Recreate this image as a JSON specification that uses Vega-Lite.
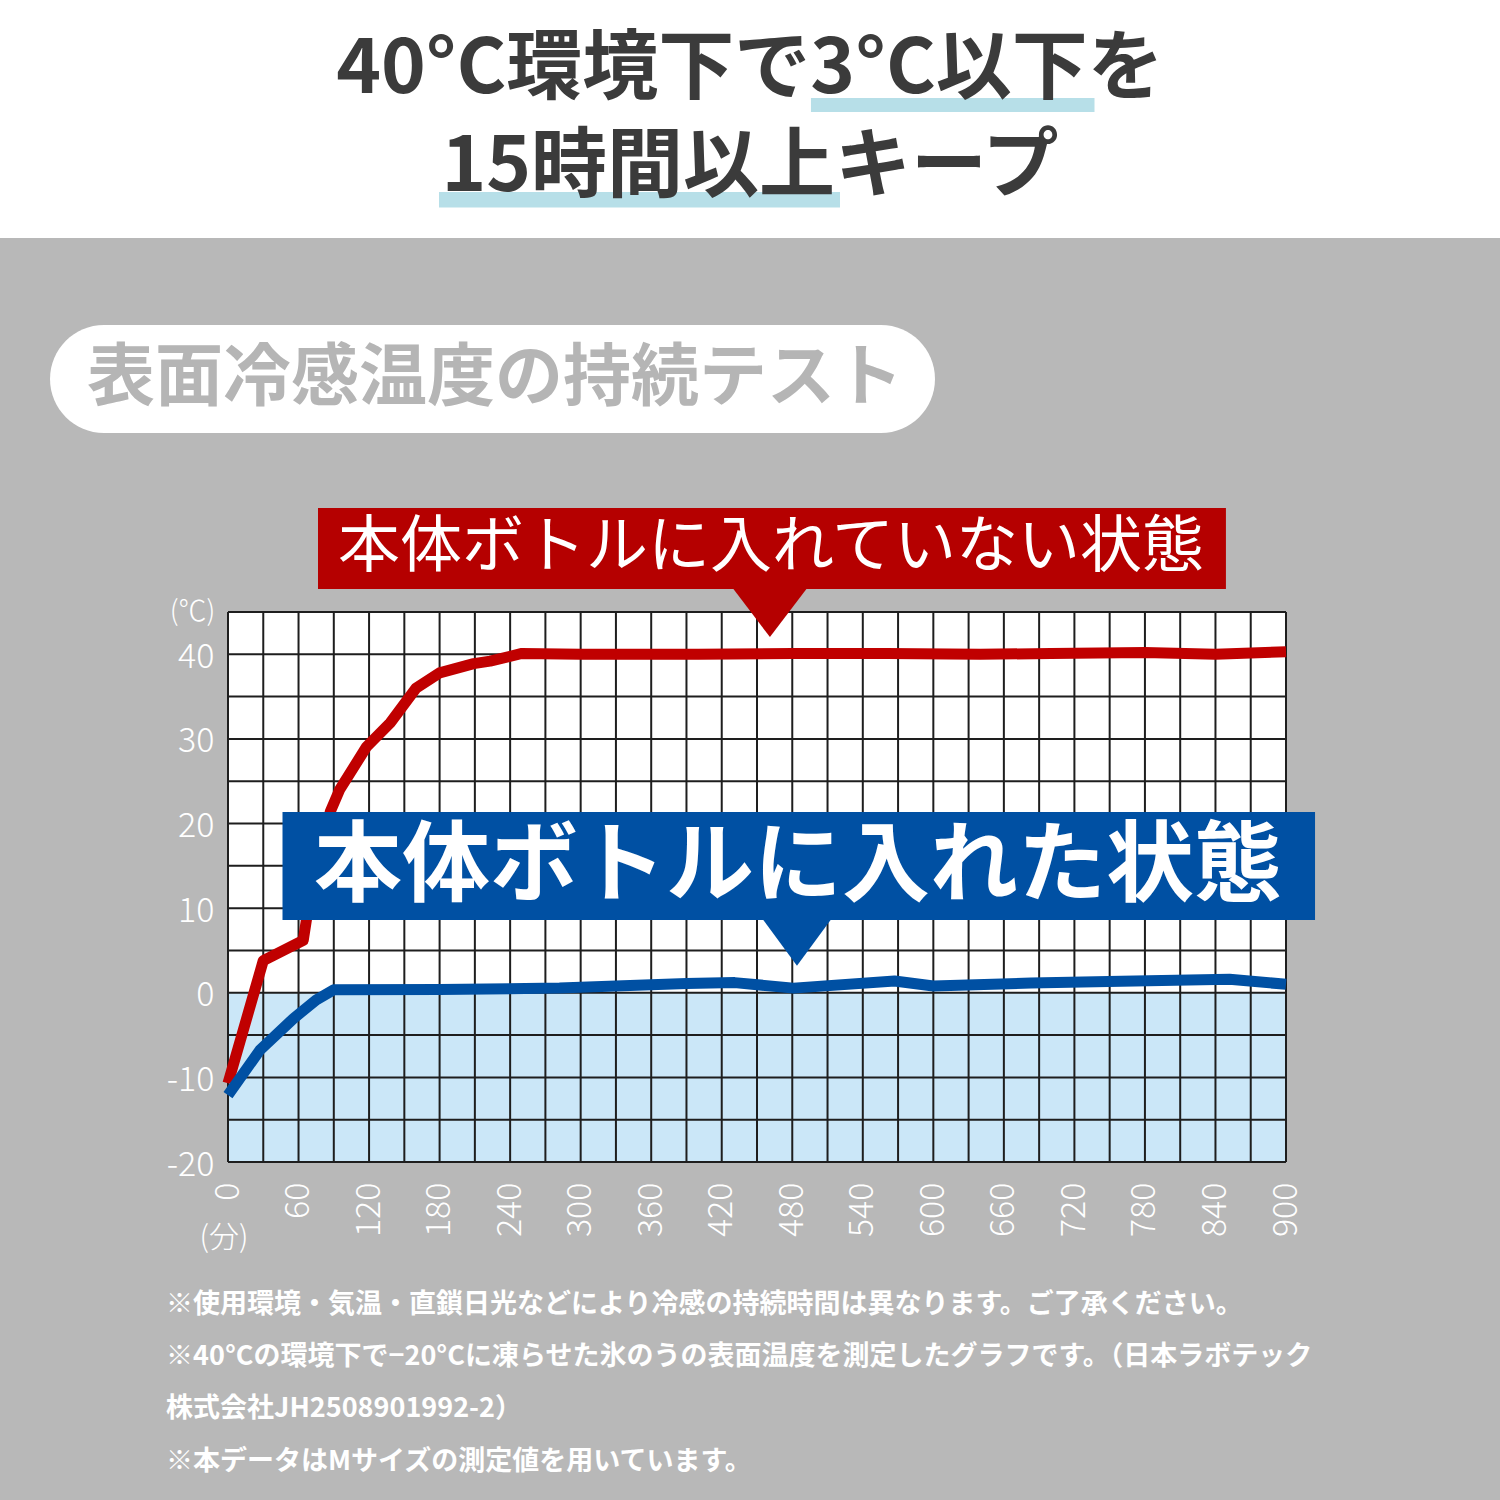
{
  "$schema": "https://vega.github.io/schema/vega-lite/v6.json",
  "description": "表面冷感温度の持続テスト",
  "autosize": {"type": "none"},
  "width": 1058,
  "height": 550,
  "padding": {"left": 228, "top": 612, "right": 214, "bottom": 338},
  "background": "#b8b8b8",
  "config": {
    "view": {"stroke": null, "fill": "#ffffff"},
    "font": "Noto Sans CJK JP",
    "text": {"font": "Noto Sans CJK JP"},
    "axis": {
      "domain": false, "ticks": false, "grid": false,
      "labelColor": "#ffffff", "labelFontSize": 34, "labelFontWeight": 300,
      "labelFont": "Noto Sans CJK JP", "labelFlush": false, "labelOverlap": false,
      "labelExpr": "datum.value < 0 ? '-' + abs(datum.value) : '' + datum.value"
    },
    "axisX": {"labelAngle": 270, "labelPadding": 20},
    "axisY": {"labelPadding": 14, "labelOffset": 3}
  },
  "datasets": {
    "temps": [
      {"condition": "本体ボトルに入れていない状態", "minutes": 0, "temp": -10.7},
      {"condition": "本体ボトルに入れていない状態", "minutes": 30, "temp": 3.8},
      {"condition": "本体ボトルに入れていない状態", "minutes": 64, "temp": 6.2},
      {"condition": "本体ボトルに入れていない状態", "minutes": 68, "temp": 9.8},
      {"condition": "本体ボトルに入れていない状態", "minutes": 78, "temp": 16},
      {"condition": "本体ボトルに入れていない状態", "minutes": 87, "temp": 21.4},
      {"condition": "本体ボトルに入れていない状態", "minutes": 95, "temp": 24},
      {"condition": "本体ボトルに入れていない状態", "minutes": 118, "temp": 29.1},
      {"condition": "本体ボトルに入れていない状態", "minutes": 138, "temp": 31.9},
      {"condition": "本体ボトルに入れていない状態", "minutes": 160, "temp": 36},
      {"condition": "本体ボトルに入れていない状態", "minutes": 180, "temp": 37.8},
      {"condition": "本体ボトルに入れていない状態", "minutes": 209, "temp": 38.9},
      {"condition": "本体ボトルに入れていない状態", "minutes": 223, "temp": 39.2},
      {"condition": "本体ボトルに入れていない状態", "minutes": 250, "temp": 40.1},
      {"condition": "本体ボトルに入れていない状態", "minutes": 300, "temp": 40.0},
      {"condition": "本体ボトルに入れていない状態", "minutes": 400, "temp": 40.0},
      {"condition": "本体ボトルに入れていない状態", "minutes": 480, "temp": 40.1},
      {"condition": "本体ボトルに入れていない状態", "minutes": 560, "temp": 40.1},
      {"condition": "本体ボトルに入れていない状態", "minutes": 640, "temp": 40.0},
      {"condition": "本体ボトルに入れていない状態", "minutes": 700, "temp": 40.1},
      {"condition": "本体ボトルに入れていない状態", "minutes": 780, "temp": 40.2},
      {"condition": "本体ボトルに入れていない状態", "minutes": 840, "temp": 40.0},
      {"condition": "本体ボトルに入れていない状態", "minutes": 900, "temp": 40.3},
      {"condition": "本体ボトルに入れた状態", "minutes": 0, "temp": -12.1},
      {"condition": "本体ボトルに入れた状態", "minutes": 27, "temp": -6.8},
      {"condition": "本体ボトルに入れた状態", "minutes": 56, "temp": -3.0},
      {"condition": "本体ボトルに入れた状態", "minutes": 75, "temp": -0.85},
      {"condition": "本体ボトルに入れた状態", "minutes": 90, "temp": 0.35},
      {"condition": "本体ボトルに入れた状態", "minutes": 180, "temp": 0.4},
      {"condition": "本体ボトルに入れた状態", "minutes": 282, "temp": 0.55},
      {"condition": "本体ボトルに入れた状態", "minutes": 330, "temp": 0.8},
      {"condition": "本体ボトルに入れた状態", "minutes": 390, "temp": 1.1},
      {"condition": "本体ボトルに入れた状態", "minutes": 431, "temp": 1.2},
      {"condition": "本体ボトルに入れた状態", "minutes": 481, "temp": 0.55},
      {"condition": "本体ボトルに入れた状態", "minutes": 567, "temp": 1.4},
      {"condition": "本体ボトルに入れた状態", "minutes": 600, "temp": 0.8},
      {"condition": "本体ボトルに入れた状態", "minutes": 683, "temp": 1.15},
      {"condition": "本体ボトルに入れた状態", "minutes": 760, "temp": 1.35},
      {"condition": "本体ボトルに入れた状態", "minutes": 852, "temp": 1.6},
      {"condition": "本体ボトルに入れた状態", "minutes": 900, "temp": 1.0}
    ],
    "gridx": [
      {"minutes": 0}, {"minutes": 30}, {"minutes": 60}, {"minutes": 90}, {"minutes": 120},
      {"minutes": 150}, {"minutes": 180}, {"minutes": 210}, {"minutes": 240}, {"minutes": 270},
      {"minutes": 300}, {"minutes": 330}, {"minutes": 360}, {"minutes": 390}, {"minutes": 420},
      {"minutes": 450}, {"minutes": 480}, {"minutes": 510}, {"minutes": 540}, {"minutes": 570},
      {"minutes": 600}, {"minutes": 630}, {"minutes": 660}, {"minutes": 690}, {"minutes": 720},
      {"minutes": 750}, {"minutes": 780}, {"minutes": 810}, {"minutes": 840}, {"minutes": 870},
      {"minutes": 900}
    ],
    "gridy": [
      {"temp": -20}, {"temp": -15}, {"temp": -10}, {"temp": -5}, {"temp": 0},
      {"temp": 5}, {"temp": 10}, {"temp": 15}, {"temp": 20}, {"temp": 25},
      {"temp": 30}, {"temp": 35}, {"temp": 40}, {"temp": 45}
    ]
  },
  "layer": [
    {
      "data": {"values": [{}]},
      "mark": {"type": "rect", "color": "#ffffff"},
      "encoding": {
        "x": {"datum": -200}, "x2": {"datum": 1100},
        "y": {"datum": 89.2}, "y2": {"datum": 130}
      }
    },
    {
      "data": {"values": [{}]},
      "mark": {"type": "rect", "color": "#b7dfe8"},
      "encoding": {
        "x": {"datum": 495.9}, "x2": {"datum": 737.1},
        "y": {"datum": 105.75}, "y2": {"datum": 104.09}
      }
    },
    {
      "data": {"values": [{}]},
      "mark": {"type": "rect", "color": "#b7dfe8"},
      "encoding": {
        "x": {"datum": 179.5}, "x2": {"datum": 520.6},
        "y": {"datum": 94.64}, "y2": {"datum": 92.81}
      }
    },
    {
      "data": {"values": [{}]},
      "mark": {"type": "text", "text": "40°C環境下で3°C以下を", "fontSize": 76, "fontWeight": "bold", "color": "#3b3b3b", "align": "center", "baseline": "middle"},
      "encoding": {
        "x": {"datum": 444},
        "y": {"datum": 109.1}
      }
    },
    {
      "data": {"values": [{}]},
      "mark": {"type": "text", "text": "15時間以上キープ", "fontSize": 76, "fontWeight": "bold", "color": "#3b3b3b", "align": "center", "baseline": "middle"},
      "encoding": {
        "x": {"datum": 444},
        "y": {"datum": 97.45}
      }
    },
    {
      "data": {"values": [{}]},
      "mark": {"type": "rect", "color": "#ffffff", "cornerRadius": 54},
      "encoding": {
        "x": {"datum": -151.4}, "x2": {"datum": 601.4},
        "y": {"datum": 78.92}, "y2": {"datum": 66.15}
      }
    },
    {
      "data": {"values": [{}]},
      "mark": {"type": "text", "text": "表面冷感温度の持続テスト", "fontSize": 68, "fontWeight": "bold", "color": "#b5b5b5", "align": "left", "baseline": "middle"},
      "encoding": {
        "x": {"datum": -119.9},
        "y": {"datum": 72.42}
      }
    },
    {
      "data": {"values": [{}]},
      "mark": {"type": "rect", "color": "#cbe7f8"},
      "encoding": {
        "x": {"datum": 0}, "x2": {"datum": 900},
        "y": {"datum": -20}, "y2": {"datum": 0}
      }
    },
    {
      "data": {"name": "gridx"},
      "mark": {"type": "rule", "color": "#1e1e1e", "strokeWidth": 2},
      "encoding": {"x": {"field": "minutes", "type": "quantitative", "title": null}}
    },
    {
      "data": {"name": "gridy"},
      "mark": {"type": "rule", "color": "#1e1e1e", "strokeWidth": 2},
      "encoding": {"y": {"field": "temp", "type": "quantitative", "title": null}}
    },
    {
      "data": {"name": "temps"},
      "mark": {"type": "line", "strokeWidth": 11, "strokeJoin": "round"},
      "encoding": {
        "x": {
          "field": "minutes", "type": "quantitative",
          "scale": {"domain": [0, 900], "nice": false, "zero": false},
          "axis": {
            "values": [0, 60, 120, 180, 240, 300, 360, 420, 480, 540, 600, 660, 720, 780, 840, 900],
            "title": null
          }
        },
        "y": {
          "field": "temp", "type": "quantitative",
          "scale": {"domain": [-20, 45], "nice": false, "zero": false},
          "axis": {
            "values": [-20, -10, 0, 10, 20, 30, 40],
            "title": null
          }
        },
        "color": {
          "field": "condition", "type": "nominal",
          "scale": {"domain": ["本体ボトルに入れていない状態", "本体ボトルに入れた状態"], "range": ["#c00000", "#0050a3"]},
          "legend": null
        }
      }
    },
    {
      "data": {"values": [{}]},
      "mark": {"type": "rect", "color": "#b50000"},
      "encoding": {
        "x": {"datum": 76.56}, "x2": {"datum": 848.9},
        "y": {"datum": 57.29}, "y2": {"datum": 47.72}
      }
    },
    {
      "data": {"values": [{}]},
      "mark": {"type": "point", "shape": "M-1,-0.66L1,-0.66L0,0.66Z", "filled": true, "opacity": 1, "color": "#b50000", "size": 5329},
      "encoding": {
        "x": {"datum": 461},
        "y": {"datum": 44.88}
      }
    },
    {
      "data": {"values": [{}]},
      "mark": {"type": "text", "text": "本体ボトルに入れていない状態", "fontSize": 62, "color": "#ffffff", "align": "center", "baseline": "middle"},
      "encoding": {
        "x": {"datum": 461.9},
        "y": {"datum": 52.56}
      }
    },
    {
      "data": {"values": [{}]},
      "mark": {"type": "rect", "color": "#0050a3"},
      "encoding": {
        "x": {"datum": 46.36}, "x2": {"datum": 924.7},
        "y": {"datum": 21.36}, "y2": {"datum": 8.6}
      }
    },
    {
      "data": {"values": [{}]},
      "mark": {"type": "point", "shape": "M-1,-0.68L1,-0.68L0,0.68Z", "filled": true, "opacity": 1, "color": "#0050a3", "size": 4624},
      "encoding": {
        "x": {"datum": 484},
        "y": {"datum": 5.94}
      }
    },
    {
      "data": {"values": [{}]},
      "mark": {"type": "text", "text": "本体ボトルに入れた状態", "fontSize": 88, "fontWeight": "bold", "color": "#ffffff", "align": "center", "baseline": "middle"},
      "encoding": {
        "x": {"datum": 484.9},
        "y": {"datum": 14.75}
      }
    },
    {
      "data": {"values": [{}]},
      "mark": {"type": "text", "text": "(℃)", "fontSize": 28, "fontWeight": 300, "color": "#ffffff", "align": "center", "baseline": "middle"},
      "encoding": {
        "x": {"datum": -30.2},
        "y": {"datum": 44.9}
      }
    },
    {
      "data": {"values": [{}]},
      "mark": {"type": "text", "text": "(分)", "fontSize": 30, "fontWeight": 300, "color": "#ffffff", "align": "center", "baseline": "middle"},
      "encoding": {
        "x": {"datum": -3.4},
        "y": {"datum": -28.98}
      }
    },
    {
      "data": {"values": [{}]},
      "mark": {"type": "text", "text": "※使用環境・気温・直鎖日光などにより冷感の持続時間は異なります。ご了承ください。", "fontSize": 27, "fontWeight": "bold", "color": "#ffffff", "align": "left", "baseline": "middle"},
      "encoding": {
        "x": {"datum": -52.7},
        "y": {"datum": -36.9}
      }
    },
    {
      "data": {"values": [{}]},
      "mark": {"type": "text", "text": "※40°Cの環境下で−20°Cに凍らせた氷のうの表面温度を測定したグラフです。（日本ラボテック", "fontSize": 27, "fontWeight": "bold", "color": "#ffffff", "align": "left", "baseline": "middle"},
      "encoding": {
        "x": {"datum": -52.7},
        "y": {"datum": -43.05}
      }
    },
    {
      "data": {"values": [{}]},
      "mark": {"type": "text", "text": "株式会社JH2508901992-2）", "fontSize": 27, "fontWeight": "bold", "color": "#ffffff", "align": "left", "baseline": "middle"},
      "encoding": {
        "x": {"datum": -52.7},
        "y": {"datum": -49.19}
      }
    },
    {
      "data": {"values": [{}]},
      "mark": {"type": "text", "text": "※本データはMサイズの測定値を用いています。", "fontSize": 27, "fontWeight": "bold", "color": "#ffffff", "align": "left", "baseline": "middle"},
      "encoding": {
        "x": {"datum": -52.7},
        "y": {"datum": -55.45}
      }
    }
  ]
}
